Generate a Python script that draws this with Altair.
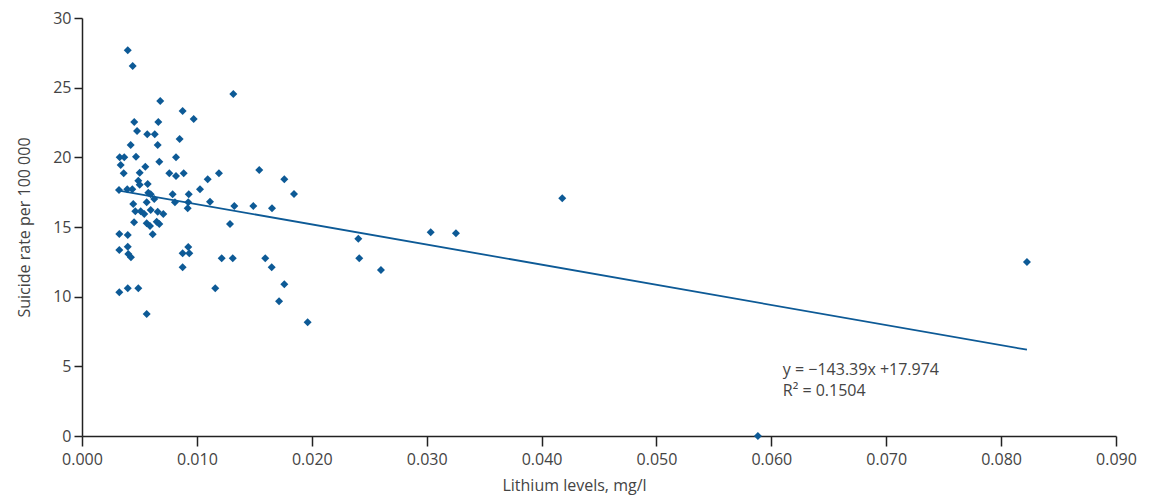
import altair as alt
import pandas as pd

lithium = [
    0.00398, 0.00441, 0.01317, 0.00681, 0.00876, 0.00972, 0.00455, 0.00664, 0.00479, 0.00568,
    0.00633, 0.00850, 0.00424, 0.00659, 0.00328, 0.00368, 0.00470, 0.00818, 0.00673, 0.00337,
    0.00551, 0.00363, 0.00502, 0.00760, 0.00818, 0.00885, 0.01192, 0.01543, 0.01761, 0.01094,
    0.00490, 0.00502, 0.00572, 0.00322, 0.00394, 0.00438, 0.00577, 0.00598, 0.00789, 0.00929,
    0.01027, 0.01845, 0.00563, 0.00629, 0.00809, 0.00925, 0.01114, 0.00446, 0.00920, 0.01326,
    0.01491, 0.01654, 0.00464, 0.00511, 0.00542, 0.00598, 0.00659, 0.00708, 0.00453, 0.00563,
    0.00592, 0.00650, 0.00673, 0.01288, 0.00615, 0.00325, 0.00398, 0.00325, 0.00398, 0.00403,
    0.00426, 0.00876, 0.00925, 0.00934, 0.00876, 0.01216, 0.01312, 0.01595, 0.01651, 0.00325,
    0.00398, 0.00490, 0.01160, 0.01761, 0.01715, 0.00563, 0.01964, 0.02405, 0.02413, 0.02602,
    0.03035, 0.03255, 0.04180, 0.05883, 0.08225,
]
suicide = [
    27.68, 26.56, 24.55, 24.04, 23.33, 22.75, 22.54, 22.54, 21.89, 21.65,
    21.65, 21.32, 20.89, 20.89, 20.00, 20.00, 20.05, 20.00, 19.69, 19.45,
    19.33, 18.85, 18.90, 18.85, 18.66, 18.85, 18.85, 19.09, 18.42, 18.42,
    18.32, 18.04, 18.09, 17.66, 17.71, 17.71, 17.46, 17.35, 17.35, 17.35,
    17.71, 17.37, 16.77, 17.01, 16.77, 16.77, 16.82, 16.65, 16.34, 16.51,
    16.51, 16.34, 16.13, 16.13, 15.93, 16.22, 16.10, 15.93, 15.34, 15.27,
    15.07, 15.38, 15.22, 15.22, 14.48, 14.50, 14.43, 13.35, 13.59, 13.06,
    12.83, 13.11, 13.57, 13.11, 12.11, 12.75, 12.75, 12.75, 12.11, 10.31,
    10.60, 10.60, 10.60, 10.89, 9.67, 8.76, 8.16, 14.16, 12.75, 11.91,
    14.62, 14.55, 17.06, 0.00, 12.49,
]
x_ticks = [0.0, 0.01, 0.02, 0.03, 0.04, 0.05, 0.06, 0.07, 0.08, 0.09]
y_ticks = [0, 5, 10, 15, 20, 25, 30]
equation_lines = ["y = −143.39x +17.974", "R² = 0.1504"]

df = pd.DataFrame({"lithium": lithium, "suicide": suicide})

BLUE = "#0d5a96"
FONT = "Open Sans"
TXT = "#444444"

x_enc = alt.X(
    "lithium:Q",
    scale=alt.Scale(domain=[0, 0.09], nice=False, zero=True),
    axis=alt.Axis(
        values=x_ticks, format=".3f", title="Lithium levels, mg/l",
        grid=False, tickSize=10, labelPadding=5, titlePadding=10,
        titleX=492, titleAlign="center", labelFlush=False,
    ),
)
y_enc = alt.Y(
    "suicide:Q",
    scale=alt.Scale(domain=[0, 30], nice=False),
    axis=alt.Axis(
        values=y_ticks, title="Suicide rate per 100 000",
        grid=False, tickSize=8, labelPadding=3, titlePadding=20, labelFlush=False,
    ),
)

points = alt.Chart(df).mark_point(
    shape="diamond", filled=True, size=64, color=BLUE, opacity=1
).encode(x=x_enc, y=y_enc)

trend = alt.Chart(df).transform_regression(
    "lithium", "suicide", method="linear"
).mark_line(color=BLUE, strokeWidth=1.8).encode(x="lithium:Q", y="suicide:Q")

ann1 = alt.Chart(pd.DataFrame({"t": [equation_lines[0]]})).mark_text(
    align="left", baseline="middle", font=FONT, fontSize=16, color=TXT
).encode(x=alt.datum(0.0610), y=alt.datum(4.75), text="t:N")
ann2 = alt.Chart(pd.DataFrame({"t": [equation_lines[1]]})).mark_text(
    align="left", baseline="middle", font=FONT, fontSize=16, color=TXT
).encode(x=alt.datum(0.0610), y=alt.datum(3.2), text="t:N")

chart = alt.layer(trend, points, ann1, ann2).properties(
    width=1034, height=418,
    autosize=alt.AutoSizeParams(type="none"),
    padding={"left": 74, "top": 10, "right": 26, "bottom": 63},
).configure_view(stroke=None).configure_axis(
    domainColor="#222222", tickColor="#222222", domainWidth=1.5, tickWidth=1.5,
    labelFont=FONT, labelFontSize=16, labelColor=TXT,
    titleFont=FONT, titleFontSize=16, titleColor=TXT, titleFontWeight="normal",
)

chart.save("out.html", embed_options={"renderer": "svg", "actions": False})
